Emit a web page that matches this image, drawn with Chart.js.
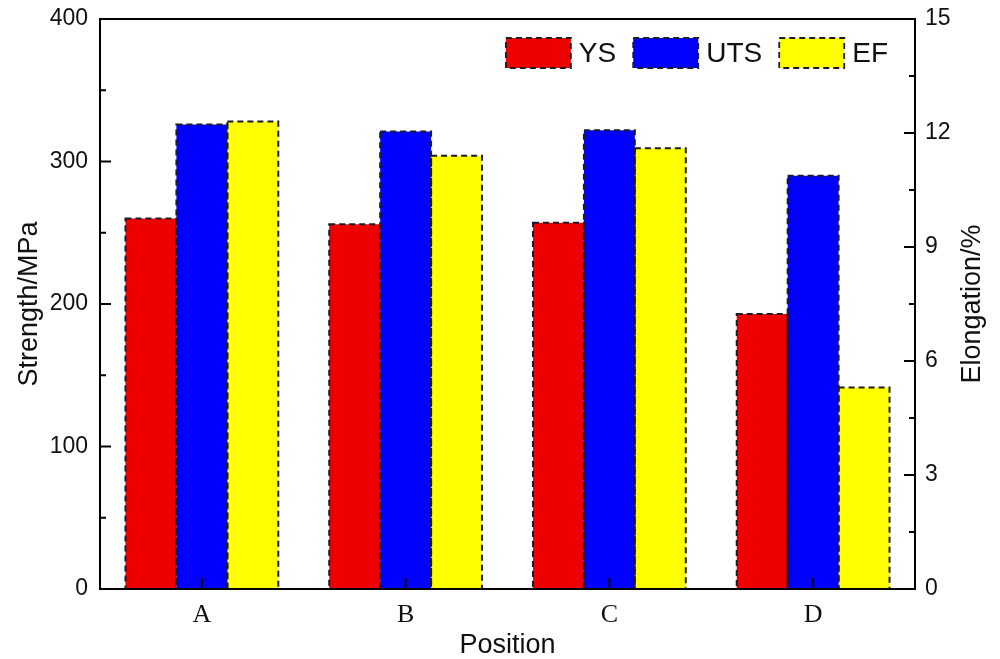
<!DOCTYPE html>
<html>
<head>
<meta charset="utf-8">
<script src="https://cdn.jsdelivr.net/npm/chart.js@4/dist/chart.umd.min.js"></script>
<style>
  html, body { margin: 0; padding: 0; background: #fff; }
  #wrap { width: 1000px; height: 659px; }
</style>
</head>
<body>
<div id="wrap"><canvas id="c" width="1000" height="659"></canvas></div>
<script>
// Tensile properties by sampling position
const positions = ['A', 'B', 'C', 'D'];
const ysValues = [260, 256, 257, 193];        // yield strength, MPa
const utsValues = [326, 321, 322, 290];       // ultimate tensile strength, MPa
const efValues = [12.3, 11.4, 11.6, 5.3];     // elongation, %
const strengthTicks = [0, 100, 200, 300, 400];
const elongationTicks = [0, 3, 6, 9, 12, 15];

const SANS = '"Liberation Sans", Arial, sans-serif';
const SERIF = '"Liberation Serif", "Times New Roman", serif';
const DASH = [6, 4];
const DASH_COLOR = '#1b1b2a';

// Dashed outlines on every bar
const dashedBars = {
  id: 'dashedBars',
  afterDatasetsDraw(chart) {
    const ctx = chart.ctx;
    ctx.save();
    ctx.setLineDash(DASH);
    ctx.lineWidth = 2;
    ctx.strokeStyle = DASH_COLOR;
    chart.data.datasets.forEach((ds, i) => {
      chart.getDatasetMeta(i).data.forEach(bar => {
        const p = bar.getProps(['x', 'y', 'base', 'width'], true);
        ctx.strokeRect(p.x - p.width / 2, p.y, p.width, p.base - p.y);
      });
    });
    ctx.restore();
  }
};

// Frame, inward major/minor ticks and the right-hand title
const frame = {
  id: 'frame',
  afterDraw(chart) {
    const ctx = chart.ctx;
    const a = chart.chartArea;
    const yL = chart.scales.y, yR = chart.scales.y1, x = chart.scales.x;
    ctx.save();
    ctx.strokeStyle = '#000';
    ctx.lineWidth = 2;
    ctx.strokeRect(a.left, a.top, a.right - a.left, a.bottom - a.top);
    ctx.beginPath();
    for (let v = 0; v <= 400; v += 50) {
      const py = yL.getPixelForValue(v);
      const len = v % 100 === 0 ? 11 : 6;
      ctx.moveTo(a.left, py); ctx.lineTo(a.left + len, py);
    }
    for (let v = 0; v <= 15; v += 1.5) {
      const py = yR.getPixelForValue(v);
      const len = Math.abs(v / 3 - Math.round(v / 3)) < 1e-6 ? 11 : 6;
      ctx.moveTo(a.right, py); ctx.lineTo(a.right - len, py);
    }
    positions.forEach((p, i) => {
      const px = x.getPixelForValue(i);
      ctx.moveTo(px, a.bottom); ctx.lineTo(px, a.bottom - 11);
    });
    ctx.stroke();

    ctx.fillStyle = '#111';
    ctx.font = '27px ' + SANS;
    ctx.textAlign = 'center';
    ctx.textBaseline = 'middle';
    ctx.translate(973, (a.top + a.bottom) / 2);
    ctx.rotate(-Math.PI / 2);
    ctx.fillText('Elongation/%', 0, 0);
    ctx.restore();
  }
};

// Legend drawn inside the plot, top right
const insideLegend = {
  id: 'insideLegend',
  afterDraw(chart) {
    const ctx = chart.ctx;
    const a = chart.chartArea;
    ctx.save();
    ctx.font = '28px ' + SANS;
    ctx.textBaseline = 'middle';
    ctx.textAlign = 'left';
    const boxW = 65, boxH = 30, gapText = 8, gapItem = 17;
    const items = chart.data.datasets.map(ds => ({
      label: ds.label, color: ds.backgroundColor, w: ctx.measureText(ds.label).width
    }));
    let total = 0;
    items.forEach((it, i) => { total += boxW + gapText + it.w + (i < items.length - 1 ? gapItem : 0); });
    let cx = a.right - 27 - total;
    const top = a.top + 19;
    items.forEach(it => {
      ctx.fillStyle = it.color;
      ctx.fillRect(cx, top, boxW, boxH);
      ctx.setLineDash(DASH);
      ctx.lineWidth = 1.8;
      ctx.strokeStyle = DASH_COLOR;
      ctx.strokeRect(cx, top, boxW, boxH);
      ctx.setLineDash([]);
      ctx.fillStyle = '#111';
      ctx.fillText(it.label, cx + boxW + gapText, top + boxH / 2 + 1);
      cx += boxW + gapText + it.w + gapItem;
    });
    ctx.restore();
  }
};

function fixVertical(width) {
  return s => { s.width = width; s.paddingTop = 0; s.paddingBottom = 0; };
}

new Chart(document.getElementById('c'), {
  type: 'bar',
  data: {
    labels: positions,
    datasets: [
      { label: 'YS', data: ysValues, backgroundColor: '#EE0000', yAxisID: 'y' },
      { label: 'UTS', data: utsValues, backgroundColor: '#0000FF', yAxisID: 'y' },
      { label: 'EF', data: efValues, backgroundColor: '#FFFF00', yAxisID: 'y1' }
    ]
  },
  options: {
    responsive: false,
    animation: false,
    devicePixelRatio: 1,
    layout: { padding: { top: 19, left: 0, right: 0, bottom: 0 } },
    datasets: { bar: { categoryPercentage: 0.75, barPercentage: 1.0, borderWidth: 0 } },
    plugins: { legend: { display: false }, tooltip: { enabled: false } },
    scales: {
      x: {
        grid: { display: false, drawTicks: false },
        border: { display: false },
        ticks: { font: { family: SERIF, size: 26 }, color: '#111', padding: 11 },
        title: { display: true, text: 'Position', font: { family: SANS, size: 27, lineHeight: 1.0 }, color: '#111', padding: { top: 0, bottom: 0 } },
        afterFit(s) { s.height = 70; s.paddingLeft = 0; s.paddingRight = 0; }
      },
      y: {
        position: 'left',
        min: 0, max: 400,
        afterBuildTicks(s) { s.ticks = strengthTicks.map(v => ({ value: v })); },
        grid: { display: false, drawTicks: false },
        border: { display: false },
        ticks: { font: { family: SANS, size: 23 }, color: '#111', padding: 12 },
        title: { display: true, text: 'Strength/MPa', font: { family: SANS, size: 27 }, color: '#111', padding: { top: 13, bottom: 0 } },
        afterFit: fixVertical(100)
      },
      y1: {
        position: 'right',
        min: 0, max: 15,
        afterBuildTicks(s) { s.ticks = elongationTicks.map(v => ({ value: v })); },
        grid: { display: false, drawTicks: false },
        border: { display: false },
        ticks: { font: { family: SANS, size: 23 }, color: '#111', padding: 10 },
        afterFit: fixVertical(85)
      }
    }
  },
  plugins: [dashedBars, frame, insideLegend]
});
</script>
</body>
</html>
